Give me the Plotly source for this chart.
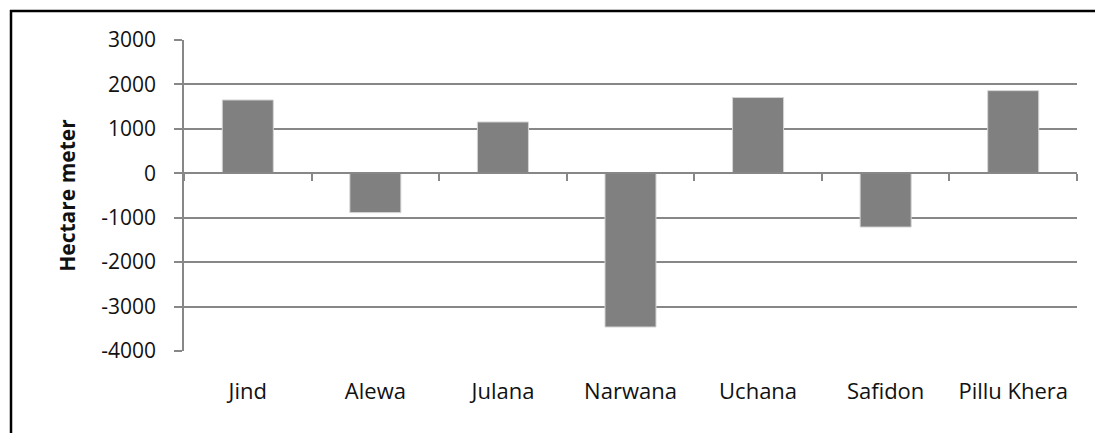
import plotly.graph_objects as go

# Block-wise net groundwater balance (hectare meter)
blocks = ["Jind", "Alewa", "Julana", "Narwana", "Uchana", "Safidon", "Pillu Khera"]
balance = [1650, -885, 1155, -3460, 1705, -1210, 1860]

y_ticks = [-4000, -3000, -2000, -1000, 0, 1000, 2000, 3000]
y_tick_text = ["-4000", "-3000", "-2000", "-1000", "0", "1000", "2000", "3000"]
y_min, y_max = y_ticks[0], y_ticks[-1]

W, H = 1095, 433
M_L, M_R, M_T, M_B = 184, 18, 40, 82
GRID = "#878787"
FONT = "Open Sans"

fig = go.Figure()
fig.add_trace(go.Bar(
    x=list(range(len(blocks))),
    y=balance,
    marker=dict(color="#808080", line=dict(color="#d4d4d4", width=1)),
    width=0.4,
    hoverinfo="skip",
    showlegend=False,
))
# invisible helper so the category axis drawn at y = 0 gets rendered
fig.add_trace(go.Scatter(
    x=[0], y=[0], xaxis="x2", mode="markers",
    marker=dict(opacity=0), hoverinfo="skip", showlegend=False,
))

n = len(blocks)
zero_pos = (0 - y_min) / (y_max - y_min)

fig.update_layout(
    width=W, height=H,
    margin=dict(l=M_L, r=M_R, t=M_T, b=M_B),
    paper_bgcolor="white",
    plot_bgcolor="white",
    font=dict(family=FONT, size=22, color="#111111"),
    xaxis=dict(
        range=[-0.5, n - 0.5],
        tickmode="array",
        tickvals=list(range(n)),
        ticktext=blocks,
        showgrid=False,
        showline=False,
        zeroline=False,
        ticks="",
        ticklabelstandoff=25,
        tickfont=dict(family=FONT, size=22, color="#111111"),
    ),
    xaxis2=dict(
        overlaying="x",
        anchor="free",
        position=zero_pos,
        range=[-0.5, n - 0.5],
        tickmode="array",
        tickvals=[i - 0.5 for i in range(n + 1)],
        showticklabels=False,
        ticks="outside",
        ticklen=7,
        tickwidth=1.5,
        tickcolor=GRID,
        showline=True,
        linecolor=GRID,
        linewidth=1.5,
        showgrid=False,
        zeroline=False,
    ),
    yaxis=dict(
        range=[y_min, y_max],
        tickmode="array",
        tickvals=y_ticks,
        ticktext=y_tick_text,
        showgrid=True,
        gridcolor=GRID,
        gridwidth=1.5,
        zeroline=False,
        showline=True,
        linecolor=GRID,
        linewidth=1.5,
        ticks="outside",
        ticklen=8,
        tickwidth=1.5,
        tickcolor=GRID,
        ticklabelstandoff=14,
        tickfont=dict(family=FONT, size=21, color="#111111"),
        title=dict(
            text="<b>Hectare meter</b>",
            font=dict(family=FONT, size=21, color="#111111"),
            standoff=20,
        ),
    ),
)

# chart frame: only the left and top edges of the outer border are visible
px_to_x = lambda p: (p - M_L) / (W - M_L - M_R)
px_to_y = lambda p: 1 - (p - M_T) / (H - M_T - M_B)
frame = dict(color="black", width=2.5)
fig.add_shape(type="line", xref="paper", yref="paper",
              x0=px_to_x(11), x1=px_to_x(11), y0=px_to_y(H + 5), y1=px_to_y(10),
              line=frame, layer="above")
fig.add_shape(type="line", xref="paper", yref="paper",
              x0=px_to_x(10), x1=px_to_x(W + 5), y0=px_to_y(11), y1=px_to_y(11),
              line=frame, layer="above")

fig.write_html("out.html")
